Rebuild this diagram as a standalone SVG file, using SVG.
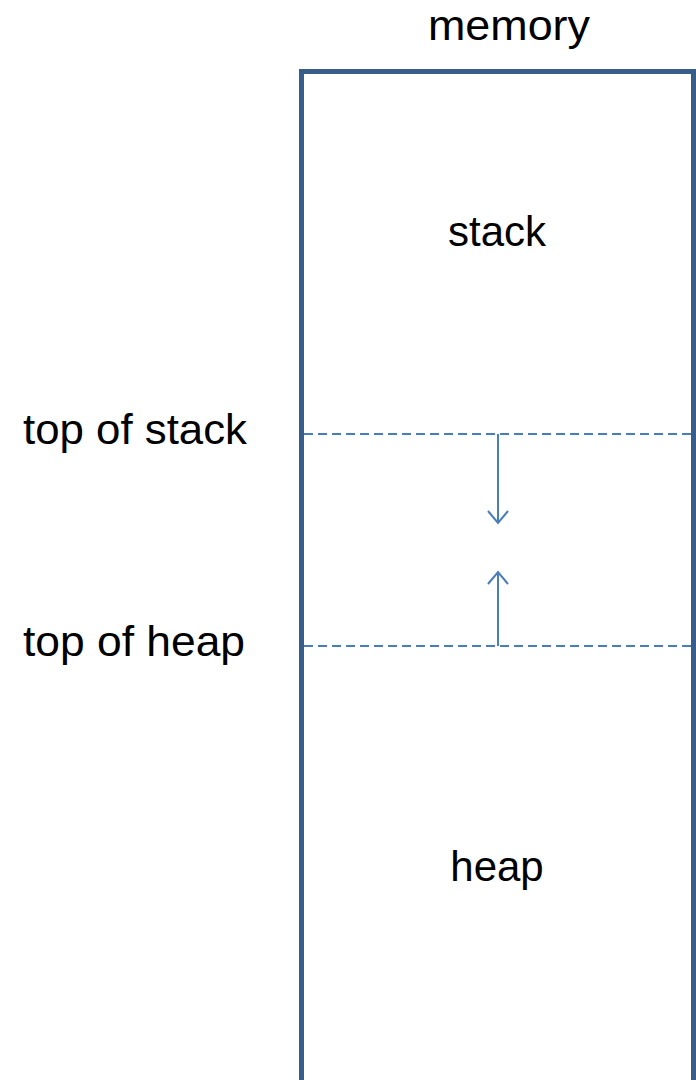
<svg xmlns="http://www.w3.org/2000/svg" width="696" height="1080" viewBox="0 0 696 1080">
<style>
text{font-family:"Liberation Sans",Arial,sans-serif;font-size:42px;fill:#000}
.dash{stroke:#4a7ebb;stroke-width:2;stroke-dasharray:9,5;fill:none}
.arr{stroke:#4a7ebb;stroke-width:2;fill:none}
</style>
<rect width="696" height="1080" fill="#fff"/>
<g id="memory">
<rect x="301.5" y="71.5" width="392" height="1020" fill="#fff" stroke="#385d8a" stroke-width="5"/>
<text x="509" y="40" text-anchor="middle" textLength="162" lengthAdjust="spacingAndGlyphs">memory</text>
</g>
<g id="stack"><text x="497" y="246" text-anchor="middle">stack</text></g>
<g id="heap"><text x="497" y="881" text-anchor="middle">heap</text></g>
<g id="top-of-stack"><text x="23" y="444" textLength="224" lengthAdjust="spacingAndGlyphs">top of stack</text></g>
<g id="top-of-heap"><text x="23" y="656" textLength="222" lengthAdjust="spacingAndGlyphs">top of heap</text></g>
<g id="connectors">
<line class="dash" x1="304" y1="434" x2="691" y2="434"/>
<line class="dash" x1="304" y1="646" x2="691" y2="646"/>
<path class="arr" d="M498 434V523M488 511L498 523L508 511"/>
<path class="arr" d="M498 646V572M488 584L498 572L508 584"/>
</g>
</svg>
